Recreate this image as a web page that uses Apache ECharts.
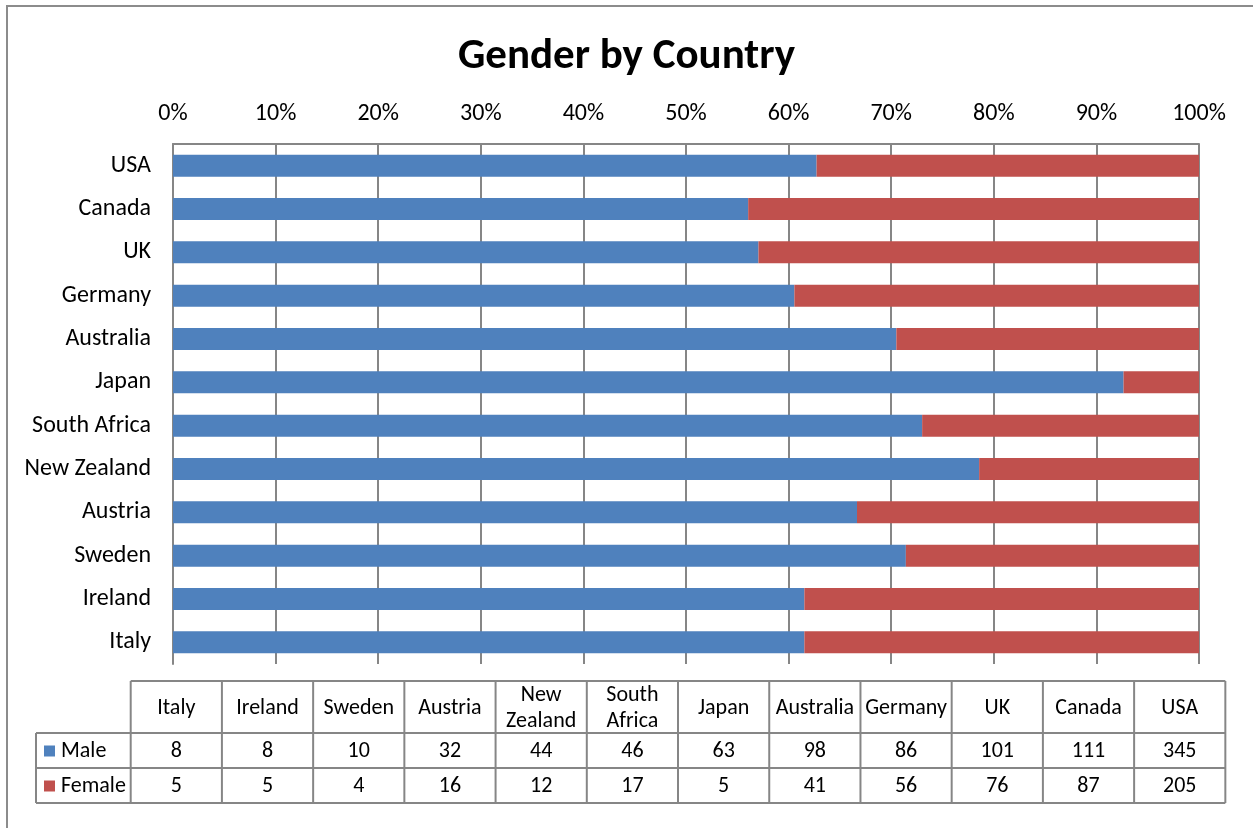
<!DOCTYPE html>
<html>
<head>
<meta charset="utf-8">
<title>Gender by Country</title>
<script src="https://cdn.jsdelivr.net/npm/echarts@6/dist/echarts.min.js"></script>
<style>
    html, body { margin: 0; padding: 0; background: #fff; }
    #chart { width: 1253px; height: 828px; }
</style>
</head>
<body>
<div id="chart"></div>
<script>
// data, bottom to top on the chart (same order as the table columns)
const countries = ['Italy', 'Ireland', 'Sweden', 'Austria', 'New Zealand', 'South Africa', 'Japan', 'Australia', 'Germany', 'UK', 'Canada', 'USA']
const tableHeaders = ['Italy', 'Ireland', 'Sweden', 'Austria', 'New\nZealand', 'South\nAfrica', 'Japan', 'Australia', 'Germany', 'UK', 'Canada', 'USA']
const male = [8, 8, 10, 32, 44, 46, 63, 98, 86, 101, 111, 345]
const female = [5, 5, 4, 16, 12, 17, 5, 41, 56, 76, 87, 205]
const percentTicks = [0, 10, 20, 30, 40, 50, 60, 70, 80, 90, 100]

const blue = '#4F81BD'
const red = '#C0504D'
const lineGray = '#868686'
const fontName = 'Carlito, Lato, sans-serif'

function toPercent(part, other) {
    let out = []
    for (let i = 0; i < part.length; i++) {
        out.push(part[i] / (part[i] + other[i]) * 100)
    }
    return out
}

function buildTable() {
    let els = []
    let left = 36
    let colStart = 130.7
    let colW = 91.22
    let right = colStart + colW * countries.length
    let rows = [681, 733, 768, 803]
    let line = (x1, y1, x2, y2) => ({
        type: 'line',
        shape: { x1: x1, y1: y1, x2: x2, y2: y2 },
        style: { stroke: lineGray, lineWidth: 2 },
        silent: true
    })
    let text = (t, x, y, align) => ({
        type: 'text',
        x: x,
        y: y,
        style: {
            text: t,
            font: '22px ' + fontName,
            fill: '#000',
            align: align || 'center',
            verticalAlign: 'middle',
            lineHeight: 26
        },
        silent: true
    })

    els.push(line(colStart, rows[0], right, rows[0]))
    for (let r = 1; r < rows.length; r++) {
        els.push(line(left, rows[r], right, rows[r]))
    }
    els.push(line(left, rows[1], left, rows[3]))
    for (let c = 0; c <= countries.length; c++) {
        let x = colStart + colW * c
        els.push(line(x, rows[0], x, rows[3]))
    }

    for (let c = 0; c < countries.length; c++) {
        let cx = colStart + colW * (c + 0.5)
        els.push(text(tableHeaders[c], cx, (rows[0] + rows[1]) / 2 + 1))
        els.push(text(String(male[c]), cx, (rows[1] + rows[2]) / 2 + 1))
        els.push(text(String(female[c]), cx, (rows[2] + rows[3]) / 2 + 1))
    }

    // legend keys in the first column
    let keys = [['Male', blue, rows[1]], ['Female', red, rows[2]]]
    for (let k = 0; k < keys.length; k++) {
        let cy = (keys[k][2] + rows[k + 2]) / 2
        els.push({
            type: 'rect',
            shape: { x: 44, y: cy - 5, width: 11, height: 11 },
            style: { fill: keys[k][1] },
            silent: true
        })
        els.push(text(keys[k][0], 61, cy + 1, 'left'))
    }

    // outer chart border
    els.push({
        type: 'rect',
        shape: { x: 7, y: 6, width: 1270, height: 850 },
        style: { fill: 'none', stroke: '#8c8c8c', lineWidth: 2 },
        silent: true
    })
    return els
}

let dom = document.getElementById('chart')
let myChart = echarts.init(dom, null, { renderer: 'canvas' })

let option = {
    animation: false,
    backgroundColor: '#fff',
    title: {
        text: 'Gender by Country',
        left: 'center',
        top: 31,
        textStyle: {
            fontFamily: fontName,
            fontSize: 43,
            fontWeight: 'bold',
            color: '#000'
        }
    },
    grid: {
        left: 173,
        right: 54,
        top: 144,
        height: 520
    },
    xAxis: {
        type: 'value',
        position: 'top',
        min: percentTicks[0],
        max: percentTicks[percentTicks.length - 1],
        interval: 10,
        axisLine: { show: true, lineStyle: { color: lineGray, width: 2 } },
        axisTick: { show: false },
        splitLine: { show: true, lineStyle: { color: lineGray, width: 2 } },
        axisLabel: {
            formatter: '{value}%',
            fontFamily: fontName,
            fontSize: 24,
            color: '#000',
            margin: 18
        }
    },
    yAxis: {
        type: 'category',
        data: countries,
        axisLine: { show: true, lineStyle: { color: lineGray, width: 2 } },
        axisTick: { show: false },
        axisLabel: {
            fontFamily: fontName,
            fontSize: 24,
            color: '#000',
            margin: 22,
            padding: [4, 0, 0, 0]
        }
    },
    series: [
        {
            name: 'Male',
            type: 'bar',
            stack: 'total',
            color: blue,
            barWidth: 22,
            data: toPercent(male, female)
        },
        {
            name: 'Female',
            type: 'bar',
            stack: 'total',
            color: red,
            barWidth: 22,
            data: toPercent(female, male)
        }
    ],
    graphic: buildTable()
}

myChart.setOption(option)
window.addEventListener('resize', myChart.resize)
</script>
</body>
</html>
